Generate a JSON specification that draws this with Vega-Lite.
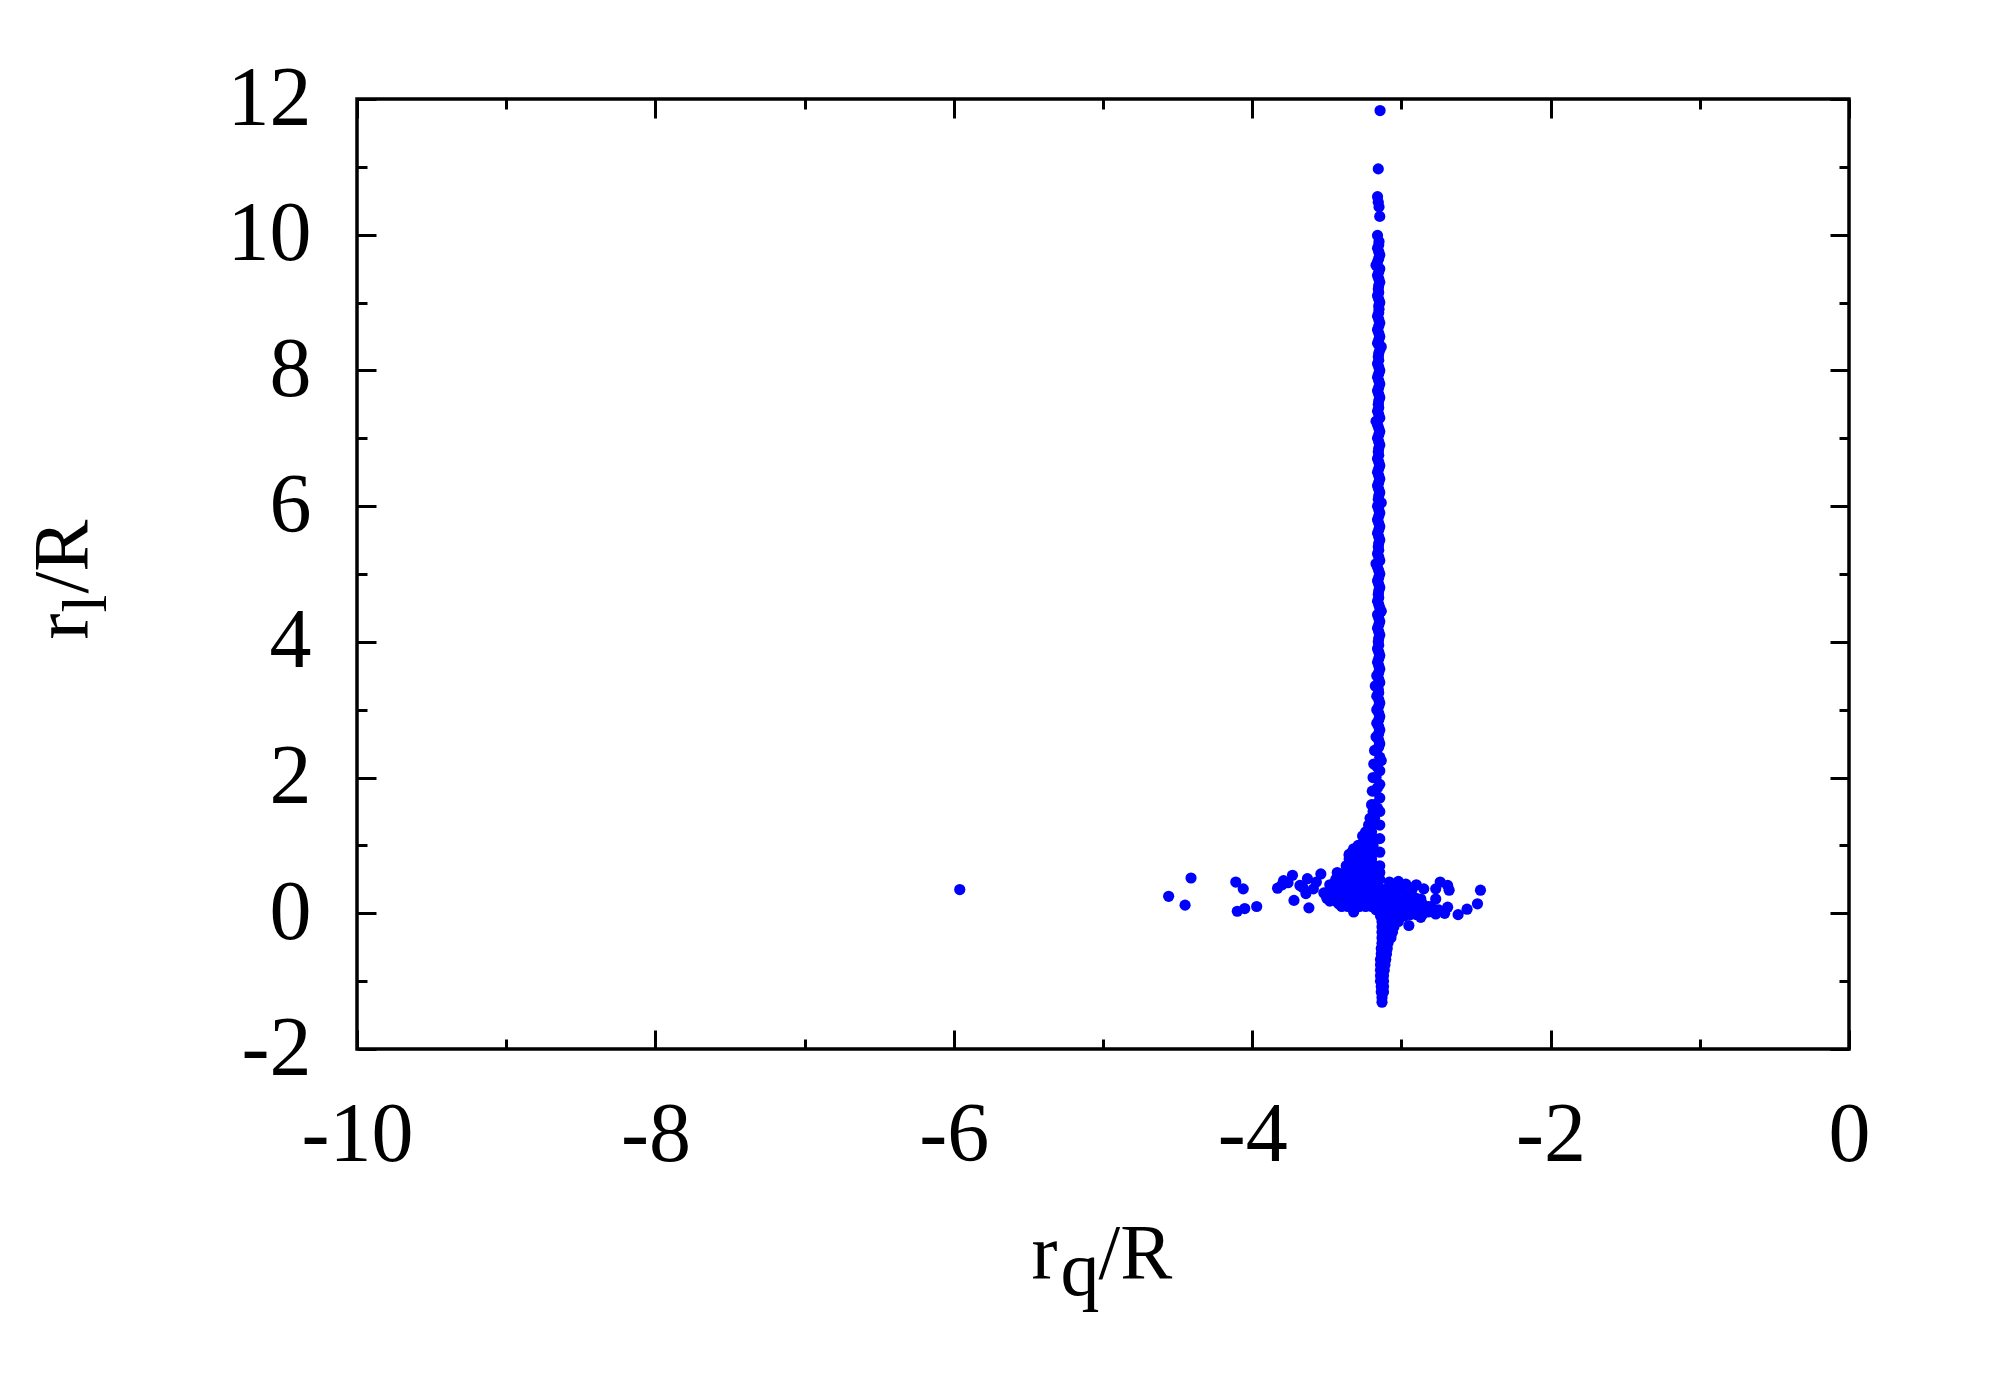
{
  "$schema": "https://vega.github.io/schema/vega-lite/v6.json",
  "autosize": "none",
  "width": 1492,
  "height": 950,
  "padding": {"left": 357, "top": 99, "right": 151, "bottom": 351},
  "background": "white",
  "config": {"view": {"stroke": "black", "strokeWidth": 3.5}},
  "resolve": {"axis": {"x": "independent", "y": "independent"}},
  "layer": [
    {
      "data": {"values": [
        {"x": -3.143, "y": 11.83}, {"x": -3.155, "y": 10.97}, {"x": -3.16, "y": 10.56}, {"x": -3.155, "y": 10.48}, {"x": -3.15, "y": 10.41}, {"x": -3.145, "y": 10.27}, {"x": -3.16, "y": 9.99},
        {"x": -3.15, "y": 9.9}, {"x": -3.16, "y": 9.8}, {"x": -3.145, "y": 9.7}, {"x": -3.16, "y": 9.6}, {"x": -3.145, "y": 9.5}, {"x": -3.16, "y": 9.4}, {"x": -3.145, "y": 9.3}, {"x": -3.155, "y": 9.2}, {"x": -3.16, "y": 9.1}, {"x": -3.145, "y": 9.0},
        {"x": -3.15, "y": 8.9}, {"x": -3.16, "y": 8.8}, {"x": -3.145, "y": 8.7}, {"x": -3.16, "y": 8.6}, {"x": -3.145, "y": 8.5}, {"x": -3.16, "y": 8.4}, {"x": -3.145, "y": 8.3}, {"x": -3.155, "y": 8.2}, {"x": -3.16, "y": 8.1}, {"x": -3.145, "y": 8.0},
        {"x": -3.16, "y": 7.9}, {"x": -3.145, "y": 7.8}, {"x": -3.16, "y": 7.7}, {"x": -3.145, "y": 7.6}, {"x": -3.155, "y": 7.5}, {"x": -3.16, "y": 7.4}, {"x": -3.145, "y": 7.3}, {"x": -3.16, "y": 7.2}, {"x": -3.145, "y": 7.1}, {"x": -3.16, "y": 7.0},
        {"x": -3.145, "y": 6.9}, {"x": -3.155, "y": 6.8}, {"x": -3.16, "y": 6.7}, {"x": -3.145, "y": 6.6}, {"x": -3.16, "y": 6.5}, {"x": -3.145, "y": 6.4}, {"x": -3.16, "y": 6.3}, {"x": -3.145, "y": 6.2}, {"x": -3.155, "y": 6.1}, {"x": -3.16, "y": 6.0},
        {"x": -3.145, "y": 5.9}, {"x": -3.16, "y": 5.8}, {"x": -3.145, "y": 5.7}, {"x": -3.16, "y": 5.6}, {"x": -3.145, "y": 5.5}, {"x": -3.155, "y": 5.4}, {"x": -3.16, "y": 5.3}, {"x": -3.145, "y": 5.2}, {"x": -3.16, "y": 5.1}, {"x": -3.145, "y": 5.0},
        {"x": -3.16, "y": 4.9}, {"x": -3.145, "y": 4.8}, {"x": -3.155, "y": 4.7}, {"x": -3.16, "y": 4.6}, {"x": -3.145, "y": 4.5}, {"x": -3.16, "y": 4.4}, {"x": -3.145, "y": 4.3}, {"x": -3.16, "y": 4.2}, {"x": -3.145, "y": 4.1}, {"x": -3.155, "y": 4.0},
        {"x": -3.16, "y": 3.9}, {"x": -3.145, "y": 3.8}, {"x": -3.16, "y": 3.7}, {"x": -3.145, "y": 3.6}, {"x": -3.165, "y": 3.5}, {"x": -3.145, "y": 3.4}, {"x": -3.155, "y": 3.3}, {"x": -3.165, "y": 3.2}, {"x": -3.145, "y": 3.1}, {"x": -3.165, "y": 3.0},
        {"x": -3.145, "y": 2.9}, {"x": -3.165, "y": 2.8}, {"x": -3.145, "y": 2.7}, {"x": -3.17, "y": 2.6}, {"x": -3.145, "y": 2.5}, {"x": -3.165, "y": 2.4},
        {"x": -3.152, "y": 9.85}, {"x": -3.152, "y": 9.75}, {"x": -3.152, "y": 9.65}, {"x": -3.152, "y": 9.45}, {"x": -3.152, "y": 9.35}, {"x": -3.152, "y": 9.25}, {"x": -3.152, "y": 9.15}, {"x": -3.152, "y": 9.05},
        {"x": -3.152, "y": 8.95}, {"x": -3.152, "y": 8.85}, {"x": -3.152, "y": 8.75}, {"x": -3.152, "y": 8.65}, {"x": -3.152, "y": 8.55}, {"x": -3.152, "y": 8.45}, {"x": -3.152, "y": 8.25}, {"x": -3.152, "y": 8.15}, {"x": -3.152, "y": 8.05},
        {"x": -3.152, "y": 7.95}, {"x": -3.152, "y": 7.85}, {"x": -3.152, "y": 7.75}, {"x": -3.152, "y": 7.65}, {"x": -3.152, "y": 7.55}, {"x": -3.152, "y": 7.45}, {"x": -3.152, "y": 7.35}, {"x": -3.152, "y": 7.15}, {"x": -3.152, "y": 7.05},
        {"x": -3.152, "y": 6.95}, {"x": -3.152, "y": 6.85}, {"x": -3.152, "y": 6.75}, {"x": -3.152, "y": 6.65}, {"x": -3.152, "y": 6.55}, {"x": -3.152, "y": 6.45}, {"x": -3.152, "y": 6.35}, {"x": -3.152, "y": 6.25}, {"x": -3.152, "y": 6.15},
        {"x": -3.152, "y": 5.95}, {"x": -3.152, "y": 5.85}, {"x": -3.152, "y": 5.75}, {"x": -3.152, "y": 5.65}, {"x": -3.152, "y": 5.55}, {"x": -3.152, "y": 5.45}, {"x": -3.152, "y": 5.35}, {"x": -3.152, "y": 5.25}, {"x": -3.152, "y": 5.05},
        {"x": -3.152, "y": 4.95}, {"x": -3.152, "y": 4.85}, {"x": -3.152, "y": 4.75}, {"x": -3.152, "y": 4.65}, {"x": -3.152, "y": 4.55}, {"x": -3.152, "y": 4.35}, {"x": -3.152, "y": 4.25}, {"x": -3.152, "y": 4.15}, {"x": -3.152, "y": 4.05},
        {"x": -3.152, "y": 3.95}, {"x": -3.152, "y": 3.85}, {"x": -3.152, "y": 3.75}, {"x": -3.152, "y": 3.65}, {"x": -3.152, "y": 3.55}, {"x": -3.152, "y": 3.45}, {"x": -3.152, "y": 3.25}, {"x": -3.152, "y": 3.15}, {"x": -3.152, "y": 3.05},
        {"x": -3.152, "y": 2.95}, {"x": -3.152, "y": 2.85}, {"x": -3.152, "y": 2.75}, {"x": -3.152, "y": 2.65}, {"x": -3.152, "y": 2.55}, {"x": -3.152, "y": 2.45}, {"x": -3.16, "y": 2.15}, {"x": -3.16, "y": 1.85}, {"x": -3.16, "y": 1.55},
        {"x": -3.17, "y": 9.55}, {"x": -3.135, "y": 8.35}, {"x": -3.17, "y": 7.25}, {"x": -3.135, "y": 6.05}, {"x": -3.17, "y": 5.15}, {"x": -3.135, "y": 4.45}, {"x": -3.175, "y": 3.35}, {"x": -3.135, "y": 2.25},
        {"x": -3.145, "y": 2.3}, {"x": -3.145, "y": 2.1}, {"x": -3.145, "y": 1.9}, {"x": -3.145, "y": 1.7}, {"x": -3.145, "y": 1.5}, {"x": -3.145, "y": 1.3}, {"x": -3.145, "y": 1.1}, {"x": -3.145, "y": 0.9}, {"x": -3.145, "y": 0.7}, {"x": -3.145, "y": 0.6}, {"x": -3.145, "y": 0.5},
        {"x": -3.18, "y": 2.4}, {"x": -3.185, "y": 2.2}, {"x": -3.19, "y": 2.0}, {"x": -3.17, "y": 2.0}, {"x": -3.195, "y": 1.8}, {"x": -3.175, "y": 1.8}, {"x": -3.2, "y": 1.6}, {"x": -3.18, "y": 1.6}, {"x": -3.19, "y": 1.5},
        {"x": -3.21, "y": 1.4}, {"x": -3.18, "y": 1.4}, {"x": -3.22, "y": 1.3}, {"x": -3.19, "y": 1.3}, {"x": -3.24, "y": 1.2}, {"x": -3.2, "y": 1.2}, {"x": -3.25, "y": 1.1}, {"x": -3.21, "y": 1.1}, {"x": -3.18, "y": 1.1},
        {"x": -3.29, "y": 1.0}, {"x": -3.24, "y": 1.0}, {"x": -3.19, "y": 1.0}, {"x": -3.32, "y": 0.95}, {"x": -3.33, "y": 0.9}, {"x": -3.28, "y": 0.9}, {"x": -3.23, "y": 0.9}, {"x": -3.19, "y": 0.9}, {"x": -3.35, "y": 0.85},
        {"x": -3.35, "y": 0.8}, {"x": -3.3, "y": 0.8}, {"x": -3.25, "y": 0.8}, {"x": -3.2, "y": 0.8}, {"x": -3.37, "y": 0.7}, {"x": -3.32, "y": 0.7}, {"x": -3.27, "y": 0.7}, {"x": -3.22, "y": 0.7}, {"x": -3.18, "y": 0.7},
        {"x": -3.44, "y": 0.18}, {"x": -3.44, "y": 0.26}, {"x": -3.44, "y": 0.34}, {"x": -3.44, "y": 0.42}, {"x": -3.44, "y": 0.5},
        {"x": -3.48, "y": 0.18}, {"x": -3.48, "y": 0.26}, {"x": -3.48, "y": 0.34}, {"x": -3.48, "y": 0.42},
        {"x": -3.4, "y": 0.1}, {"x": -3.4, "y": 0.18}, {"x": -3.4, "y": 0.26}, {"x": -3.4, "y": 0.34}, {"x": -3.4, "y": 0.42}, {"x": -3.4, "y": 0.5}, {"x": -3.4, "y": 0.58},
        {"x": -3.36, "y": 0.1}, {"x": -3.36, "y": 0.18}, {"x": -3.36, "y": 0.26}, {"x": -3.36, "y": 0.34}, {"x": -3.36, "y": 0.42}, {"x": -3.36, "y": 0.5}, {"x": -3.36, "y": 0.58},
        {"x": -3.32, "y": 0.1}, {"x": -3.32, "y": 0.18}, {"x": -3.32, "y": 0.26}, {"x": -3.32, "y": 0.34}, {"x": -3.32, "y": 0.42}, {"x": -3.32, "y": 0.5}, {"x": -3.32, "y": 0.58},
        {"x": -3.28, "y": 0.1}, {"x": -3.28, "y": 0.18}, {"x": -3.28, "y": 0.26}, {"x": -3.28, "y": 0.34}, {"x": -3.28, "y": 0.42}, {"x": -3.28, "y": 0.5}, {"x": -3.28, "y": 0.58},
        {"x": -3.24, "y": 0.1}, {"x": -3.24, "y": 0.18}, {"x": -3.24, "y": 0.26}, {"x": -3.24, "y": 0.34}, {"x": -3.24, "y": 0.42}, {"x": -3.24, "y": 0.5}, {"x": -3.24, "y": 0.58},
        {"x": -3.2, "y": 0.1}, {"x": -3.2, "y": 0.18}, {"x": -3.2, "y": 0.26}, {"x": -3.2, "y": 0.34}, {"x": -3.2, "y": 0.42}, {"x": -3.2, "y": 0.5}, {"x": -3.2, "y": 0.58},
        {"x": -3.17, "y": 0.05}, {"x": -3.17, "y": 0.2}, {"x": -3.17, "y": 0.35}, {"x": -3.17, "y": 0.5}, {"x": -3.17, "y": 0.62},
        {"x": -5.96, "y": 0.35}, {"x": -4.56, "y": 0.25}, {"x": -4.41, "y": 0.52}, {"x": -4.45, "y": 0.12}, {"x": -4.11, "y": 0.46}, {"x": -4.06, "y": 0.36}, {"x": -4.1, "y": 0.03}, {"x": -4.05, "y": 0.07}, {"x": -3.97, "y": 0.1},
        {"x": -3.83, "y": 0.37}, {"x": -3.79, "y": 0.48}, {"x": -3.73, "y": 0.56}, {"x": -3.72, "y": 0.19}, {"x": -3.68, "y": 0.41}, {"x": -3.63, "y": 0.51}, {"x": -3.62, "y": 0.08}, {"x": -3.59, "y": 0.36}, {"x": -3.54, "y": 0.58},
        {"x": -3.64, "y": 0.29}, {"x": -3.57, "y": 0.46}, {"x": -3.43, "y": 0.6}, {"x": -3.47, "y": 0.41}, {"x": -3.52, "y": 0.3}, {"x": -3.5, "y": 0.22}, {"x": -3.42, "y": 0.14}, {"x": -3.32, "y": 0.02}, {"x": -3.35, "y": 0.87},
        {"x": -3.26, "y": 1.14}, {"x": -3.76, "y": 0.45}, {"x": -3.66, "y": 0.38}, {"x": -3.8, "y": 0.42},
        {"x": -3.14, "y": -0.04}, {"x": -3.14, "y": 0.04}, {"x": -3.14, "y": 0.12}, {"x": -3.14, "y": 0.2}, {"x": -3.14, "y": 0.28}, {"x": -3.14, "y": 0.36},
        {"x": -3.1, "y": -0.04}, {"x": -3.1, "y": 0.04}, {"x": -3.1, "y": 0.12}, {"x": -3.1, "y": 0.2}, {"x": -3.1, "y": 0.28}, {"x": -3.1, "y": 0.36},
        {"x": -3.06, "y": -0.04}, {"x": -3.06, "y": 0.04}, {"x": -3.06, "y": 0.12}, {"x": -3.06, "y": 0.2}, {"x": -3.06, "y": 0.28}, {"x": -3.06, "y": 0.36},
        {"x": -3.02, "y": -0.04}, {"x": -3.02, "y": 0.04}, {"x": -3.02, "y": 0.12}, {"x": -3.02, "y": 0.2}, {"x": -3.02, "y": 0.28}, {"x": -3.02, "y": 0.36},
        {"x": -2.98, "y": -0.04}, {"x": -2.98, "y": 0.04}, {"x": -2.98, "y": 0.12}, {"x": -2.98, "y": 0.2}, {"x": -2.98, "y": 0.28},
        {"x": -2.94, "y": -0.02}, {"x": -2.94, "y": 0.06}, {"x": -2.94, "y": 0.14}, {"x": -2.94, "y": 0.22},
        {"x": -2.9, "y": -0.02}, {"x": -2.9, "y": 0.06}, {"x": -2.9, "y": 0.14}, {"x": -2.9, "y": 0.22},
        {"x": -2.86, "y": -0.02}, {"x": -2.86, "y": 0.06}, {"x": -2.86, "y": 0.14},
        {"x": -2.82, "y": 0.02}, {"x": -2.82, "y": 0.1},
        {"x": -3.08, "y": 0.46}, {"x": -2.97, "y": 0.43}, {"x": -2.9, "y": 0.42}, {"x": -2.85, "y": 0.36}, {"x": -2.77, "y": 0.36}, {"x": -2.74, "y": 0.46}, {"x": -2.69, "y": 0.41}, {"x": -2.68, "y": 0.34},
        {"x": -2.77, "y": 0.21}, {"x": -2.87, "y": 0.21}, {"x": -2.69, "y": 0.09}, {"x": -2.71, "y": 0.0}, {"x": -2.77, "y": -0.01}, {"x": -2.62, "y": -0.02}, {"x": -2.56, "y": 0.06}, {"x": -2.49, "y": 0.14},
        {"x": -2.47, "y": 0.34}, {"x": -2.95, "y": -0.18}, {"x": -2.87, "y": -0.06}, {"x": -2.8, "y": 0.1}, {"x": -2.75, "y": 0.05}, {"x": -2.93, "y": 0.34}, {"x": -3.02, "y": 0.47},
        {"x": -3.13, "y": -0.12}, {"x": -3.09, "y": -0.12}, {"x": -3.05, "y": -0.12}, {"x": -3.02, "y": -0.12},
        {"x": -3.13, "y": -0.2}, {"x": -3.09, "y": -0.2}, {"x": -3.05, "y": -0.2},
        {"x": -3.13, "y": -0.28}, {"x": -3.09, "y": -0.28}, {"x": -3.06, "y": -0.28},
        {"x": -3.13, "y": -0.36}, {"x": -3.1, "y": -0.36}, {"x": -3.07, "y": -0.36},
        {"x": -3.13, "y": -0.44}, {"x": -3.09, "y": -0.44},
        {"x": -3.135, "y": -0.52}, {"x": -3.095, "y": -0.52},
        {"x": -3.135, "y": -0.6}, {"x": -3.1, "y": -0.6},
        {"x": -3.14, "y": -0.68}, {"x": -3.105, "y": -0.68},
        {"x": -3.14, "y": -0.76}, {"x": -3.11, "y": -0.76},
        {"x": -3.14, "y": -0.84}, {"x": -3.115, "y": -0.84},
        {"x": -3.14, "y": -0.92}, {"x": -3.12, "y": -0.92},
        {"x": -3.14, "y": -1.0}, {"x": -3.12, "y": -1.0},
        {"x": -3.135, "y": -1.08}, {"x": -3.12, "y": -1.08},
        {"x": -3.135, "y": -1.16}, {"x": -3.12, "y": -1.16},
        {"x": -3.13, "y": -1.24}, {"x": -3.13, "y": -1.31}
      ]},
      "mark": {"type": "circle", "size": 125, "color": "#0000ff", "opacity": 1},
      "encoding": {
        "x": {"field": "x", "type": "quantitative",
          "scale": {"domain": [-10, 0], "nice": false, "zero": false},
          "axis": {"orient": "bottom", "values": [-10, -8, -6, -4, -2, 0], "ticks": false, "domain": false, "grid": false,
            "labelFont": "Liberation Serif", "labelFontSize": 84, "labelColor": "black", "labelPadding": 45,
            "labelFlush": false, "labelOverlap": false, "labelBound": false, "labelExpr": "'' + datum.value",
            "title": "r", "titleFont": "Liberation Serif", "titleFontSize": 78, "titleFontWeight": "normal", "titleColor": "black",
            "titleAlign": "left", "titleBaseline": "alphabetic", "titleX": 674, "titleY": 228, "titleAngle": 0}},
        "y": {"field": "y", "type": "quantitative",
          "scale": {"domain": [-2, 12], "nice": false, "zero": false},
          "axis": {"orient": "left", "values": [-2, 0, 2, 4, 6, 8, 10, 12], "ticks": false, "domain": false, "grid": false,
            "labelFont": "Liberation Serif", "labelFontSize": 84, "labelColor": "black", "labelPadding": 46,
            "labelFlush": false, "labelOverlap": false, "labelBound": false, "labelExpr": "'' + datum.value",
            "title": "r", "titleFont": "Liberation Serif", "titleFontSize": 78, "titleFontWeight": "normal", "titleColor": "black",
            "titleAlign": "left", "titleBaseline": "alphabetic", "titleAngle": -90, "titleX": -271, "titleY": 540}}
      }
    },
    {
      "data": {"values": [{"x": -5, "y": 5}]},
      "mark": {"type": "circle", "opacity": 0},
      "encoding": {
        "x": {"field": "x", "type": "quantitative", "scale": {"domain": [-10, 0], "nice": false, "zero": false},
          "axis": {"orient": "bottom", "values": [-10, -8, -6, -4, -2, 0], "ticks": true, "tickSize": -19, "tickWidth": 3, "tickColor": "black",
            "labels": false, "domain": false, "grid": false,
            "title": "q", "titleFont": "Liberation Serif", "titleFontSize": 78, "titleFontWeight": "normal", "titleColor": "black",
            "titleAlign": "left", "titleBaseline": "alphabetic", "titleX": 703, "titleY": 245, "titleAngle": 0}},
        "y": {"field": "y", "type": "quantitative", "scale": {"domain": [-2, 12], "nice": false, "zero": false},
          "axis": {"orient": "left", "values": [-2, 0, 2, 4, 6, 8, 10, 12], "ticks": true, "tickSize": -19, "tickWidth": 3, "tickColor": "black",
            "labels": false, "domain": false, "grid": false,
            "title": "l", "titleFont": "Liberation Serif", "titleFontSize": 64, "titleFontWeight": "normal", "titleColor": "black",
            "titleAlign": "left", "titleBaseline": "alphabetic", "titleAngle": -90, "titleX": -252, "titleY": 513}}
      }
    },
    {
      "data": {"values": [{"x": -5, "y": 5}]},
      "mark": {"type": "circle", "opacity": 0},
      "encoding": {
        "x": {"field": "x", "type": "quantitative", "scale": {"domain": [-10, 0], "nice": false, "zero": false},
          "axis": {"orient": "bottom", "values": [-9, -7, -5, -3, -1], "ticks": true, "tickSize": -10, "tickWidth": 3, "tickColor": "black",
            "labels": false, "domain": false, "grid": false,
            "title": "/R", "titleFont": "Liberation Serif", "titleFontSize": 78, "titleFontWeight": "normal", "titleColor": "black",
            "titleAlign": "left", "titleBaseline": "alphabetic", "titleX": 741, "titleY": 228, "titleAngle": 0}},
        "y": {"field": "y", "type": "quantitative", "scale": {"domain": [-2, 12], "nice": false, "zero": false},
          "axis": {"orient": "left", "values": [-1, 1, 3, 5, 7, 9, 11], "ticks": true, "tickSize": -10, "tickWidth": 3, "tickColor": "black",
            "labels": false, "domain": false, "grid": false,
            "title": "/R", "titleFont": "Liberation Serif", "titleFontSize": 78, "titleFontWeight": "normal", "titleColor": "black",
            "titleAlign": "left", "titleBaseline": "alphabetic", "titleAngle": -90, "titleX": -271, "titleY": 494}}
      }
    },
    {
      "data": {"values": [{"x": -5, "y": 5}]},
      "mark": {"type": "circle", "opacity": 0},
      "encoding": {
        "x": {"field": "x", "type": "quantitative", "scale": {"domain": [-10, 0], "nice": false, "zero": false},
          "axis": {"orient": "top", "values": [-10, -8, -6, -4, -2, 0], "ticks": true, "tickSize": -19, "tickWidth": 3, "tickColor": "black",
            "labels": false, "domain": false, "grid": false, "title": null}},
        "y": {"field": "y", "type": "quantitative", "scale": {"domain": [-2, 12], "nice": false, "zero": false},
          "axis": {"orient": "right", "values": [-2, 0, 2, 4, 6, 8, 10, 12], "ticks": true, "tickSize": -19, "tickWidth": 3, "tickColor": "black",
            "labels": false, "domain": false, "grid": false, "title": null}}
      }
    },
    {
      "data": {"values": [{"x": -5, "y": 5}]},
      "mark": {"type": "circle", "opacity": 0},
      "encoding": {
        "x": {"field": "x", "type": "quantitative", "scale": {"domain": [-10, 0], "nice": false, "zero": false},
          "axis": {"orient": "top", "values": [-9, -7, -5, -3, -1], "ticks": true, "tickSize": -10, "tickWidth": 3, "tickColor": "black",
            "labels": false, "domain": false, "grid": false, "title": null}},
        "y": {"field": "y", "type": "quantitative", "scale": {"domain": [-2, 12], "nice": false, "zero": false},
          "axis": {"orient": "right", "values": [-1, 1, 3, 5, 7, 9, 11], "ticks": true, "tickSize": -10, "tickWidth": 3, "tickColor": "black",
            "labels": false, "domain": false, "grid": false, "title": null}}
      }
    }
  ]
}
